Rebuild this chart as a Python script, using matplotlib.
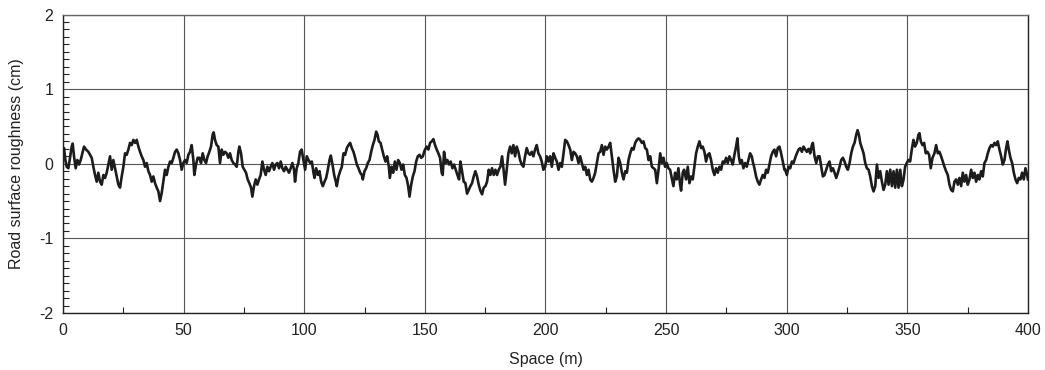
import matplotlib
matplotlib.use("Agg")
import matplotlib.pyplot as plt
from matplotlib.ticker import MultipleLocator
import numpy as np

# Road profile: distance along the road (m) and surface elevation (cm)
space_m = [
    0.00, 0.42, 0.97, 1.52, 2.21, 2.91, 3.60, 4.01, 4.56, 5.26, 5.95, 6.64, 7.33, 8.02, 8.71,
    9.54, 10.51, 11.20, 11.89, 12.58, 13.27, 13.96, 14.65, 15.34, 16.04, 16.73, 17.42, 18.11,
    18.80, 19.49, 20.18, 20.87, 21.56, 22.25, 22.95, 23.64, 24.33, 25.02, 25.71, 26.40, 27.09,
    27.78, 28.47, 29.16, 29.86, 30.55, 31.24, 31.93, 32.62, 33.31, 34.00, 34.69, 35.38, 36.07,
    36.77, 37.46, 38.15, 38.84, 39.53, 40.22, 40.91, 41.60, 42.29, 42.98, 43.68, 44.37, 45.06,
    45.75, 46.44, 47.13, 47.82, 48.51, 49.20, 49.89,
    50.57, 51.26, 51.96, 52.65, 53.34, 54.03, 54.44, 55.13, 55.82, 56.52, 57.21, 57.90, 58.59,
    59.28, 59.97, 60.66, 61.35, 62.04, 62.46, 63.01, 63.70, 64.39, 65.08, 65.78, 66.47, 67.16,
    67.85, 68.54, 69.23, 69.92, 70.61, 71.30, 72.00, 72.69, 73.10, 73.79, 74.48, 75.17, 75.86,
    76.55, 77.25, 77.94, 78.49, 79.18, 79.87, 80.56, 81.25, 81.94, 82.64, 83.33, 84.02, 84.71,
    85.40, 86.09, 86.78, 87.47, 88.16, 88.85, 89.55, 90.24, 90.93, 91.62, 92.31, 93.00, 93.69,
    94.38, 95.07, 95.76, 96.18, 96.87, 97.56, 98.25, 98.94, 99.63,
    100.37, 101.06, 101.76, 102.45, 103.14, 103.83, 104.24, 104.93, 105.62, 106.32, 107.01,
    107.70, 108.39, 109.08, 109.77, 110.46, 111.01, 111.71, 112.40, 113.09, 113.50, 114.19,
    114.88, 115.58, 116.27, 116.96, 117.65, 118.34, 119.03, 119.72, 120.41, 121.10, 121.79,
    122.49, 123.18, 123.87, 124.28, 124.97, 125.66, 126.35, 127.05, 127.74, 128.43, 129.12,
    129.81, 130.36, 130.92, 131.61, 132.30, 132.99, 133.68, 134.37, 135.06, 135.48, 136.17,
    136.86, 137.55, 138.24, 138.93, 139.62, 140.31, 141.00, 141.69, 142.39, 143.08, 143.63,
    144.32, 145.01, 145.70, 146.39, 147.08, 147.78, 148.47, 149.16, 149.71,
    150.07, 150.76, 151.46, 152.15, 152.84, 153.53, 154.22, 154.91, 155.60, 156.29, 156.98,
    157.40, 157.95, 158.64, 159.33, 160.02, 160.71, 161.41, 162.10, 162.79, 163.48, 164.17,
    164.72, 165.41, 166.10, 166.80, 167.49, 168.18, 168.87, 169.56, 170.25, 170.94, 171.63,
    172.32, 173.01, 173.71, 174.40, 175.09, 175.78, 176.47, 177.16, 177.85, 178.54, 179.23,
    179.92, 180.62, 181.31, 182.00, 182.69, 183.24, 183.93, 184.62, 185.31, 186.01, 186.70,
    187.39, 188.08, 188.77, 189.46, 190.15, 190.84, 191.53, 192.22, 192.92, 193.61, 194.30,
    194.99, 195.68, 196.37, 197.06, 197.75, 198.44, 199.13,
    199.87, 200.56, 201.26, 201.95, 202.64, 203.33, 204.02, 204.71, 205.40, 206.09, 206.78,
    207.47, 208.17, 208.86, 209.55, 210.24, 210.93, 211.62, 212.31, 213.00, 213.69, 214.38,
    215.08, 215.77, 216.46, 217.15, 217.84, 218.53, 219.22, 219.91, 220.60, 221.29, 221.99,
    222.68, 223.37, 224.06, 224.75, 225.44, 226.13, 226.82, 227.51, 228.20, 228.90, 229.59,
    230.28, 230.97, 231.66, 232.35, 233.04, 233.73, 234.42, 235.11, 235.81, 236.50, 237.19,
    237.88, 238.57, 239.26, 239.95, 240.64, 241.33, 242.02, 242.72, 243.41, 244.10, 244.79,
    245.48, 246.17, 246.86, 247.55, 248.24, 248.93,
    249.57, 250.26, 250.96, 251.65, 252.34, 253.03, 253.72, 254.41, 255.10, 255.79, 256.21,
    256.90, 257.45, 258.28, 258.97, 259.66, 260.35, 261.04, 261.73, 262.43, 263.12, 263.81,
    264.50, 265.19, 265.88, 266.57, 267.26, 267.95, 268.64, 269.34, 270.03, 270.72, 271.41,
    272.10, 272.79, 273.48, 274.17, 274.86, 275.55, 276.25, 276.94, 277.63, 278.32, 279.01,
    279.56, 280.12, 280.67, 281.36, 282.05, 282.74, 283.43, 284.12, 284.81, 285.51, 285.92,
    286.61, 287.30, 287.99, 288.68, 289.37, 290.07, 290.76, 291.45, 292.14, 292.83, 293.52,
    294.21, 294.90, 295.59, 296.28, 296.98, 297.67, 298.36, 299.05,
    299.37, 300.06, 300.76, 301.45, 302.14, 302.83, 303.52, 304.21, 304.90, 305.59, 306.28,
    306.97, 307.67, 308.36, 309.05, 309.74, 310.43, 310.84, 311.53, 312.23, 312.92, 313.61,
    314.30, 314.99, 315.68, 316.37, 317.06, 317.75, 318.44, 319.14, 319.83, 320.52, 321.21,
    321.90, 322.59, 323.28, 323.97, 324.66, 325.35, 326.05, 326.74, 327.43, 328.12, 328.81,
    329.36, 329.92, 330.47, 331.16, 331.85, 332.54, 333.23, 333.92, 334.61, 335.31, 336.00,
    336.69, 337.38, 338.07, 338.76, 339.45, 340.14, 340.83, 341.52, 342.22, 342.91, 343.60,
    344.29, 344.98, 345.67, 346.36, 347.05, 347.74, 348.43,
    349.07, 349.76, 350.46, 351.15, 351.84, 352.53, 353.22, 353.91, 354.60, 355.02, 355.57,
    356.26, 356.95, 357.64, 358.33, 359.02, 359.71, 360.41, 361.23, 361.93, 362.62, 363.31,
    364.00, 364.69, 365.38, 366.07, 366.76, 367.45, 368.14, 368.84, 369.53, 370.22, 370.91,
    371.60, 372.29, 372.98, 373.67, 374.36, 375.05, 375.75, 376.44, 377.13, 377.82, 378.51,
    379.20, 379.89, 380.58, 381.27, 381.96, 382.66, 383.35, 384.04, 384.73, 385.42, 386.11,
    386.80, 387.49, 388.18, 388.87, 389.57, 390.26, 390.95, 391.50, 392.05, 392.74, 393.44,
    394.13, 394.82, 395.51, 396.20, 396.89, 397.58, 398.27, 398.96, 399.65, 400.00,
]

roughness_cm = [
    0.16, 0.21, 0.05, -0.04, -0.06, 0.08, 0.23, 0.27, 0.10, -0.06, 0.05, -0.01, 0.05, 0.14, 0.23,
    0.19, 0.16, 0.12, 0.08, -0.04, -0.15, -0.24, -0.12, -0.24, -0.28, -0.15, -0.19, -0.12,
    -0.01, 0.10, -0.08, 0.05, -0.06, -0.17, -0.28, -0.32, -0.17, -0.04, 0.14, 0.12, 0.19,
    0.28, 0.25, 0.32, 0.28, 0.32, 0.23, 0.16, 0.10, 0.05, -0.04, 0.01, -0.10, -0.15,
    -0.24, -0.17, -0.26, -0.32, -0.37, -0.50, -0.39, -0.24, -0.08, -0.15, -0.04, 0.03, 0.01,
    0.08, 0.16, 0.19, 0.14, 0.05, -0.08, 0.01,
    0.05, 0.01, 0.12, 0.16, 0.25, 0.05, -0.15, -0.01, 0.08, 0.08, 0.01, 0.14, 0.05,
    0.01, 0.10, 0.16, 0.23, 0.39, 0.42, 0.32, 0.25, 0.23, 0.01, 0.19, 0.12, 0.16,
    0.14, 0.08, 0.14, 0.05, 0.01, -0.01, -0.04, 0.16, 0.23, 0.14, -0.04, -0.08, -0.12,
    -0.21, -0.26, -0.32, -0.44, -0.30, -0.21, -0.28, -0.21, -0.15, 0.03, -0.08, -0.15, -0.04,
    -0.10, -0.04, 0.01, -0.08, -0.01, 0.01, -0.06, 0.03, -0.06, -0.10, -0.04, -0.08, -0.12,
    -0.06, 0.01, -0.08, -0.24, -0.06, 0.01, 0.16, 0.19, 0.05,
    -0.08, 0.10, 0.05, 0.01, 0.03, -0.12, -0.19, -0.06, -0.15, -0.10, -0.24,
    -0.30, -0.24, -0.19, -0.08, 0.05, 0.11, -0.01, -0.15, -0.24, -0.30, -0.17,
    -0.10, -0.04, 0.14, 0.12, 0.21, 0.25, 0.28, 0.21, 0.16, 0.08, -0.01,
    -0.06, -0.12, -0.15, -0.21, -0.10, -0.06, 0.01, 0.05, 0.16, 0.25, 0.32,
    0.43, 0.39, 0.30, 0.28, 0.19, 0.10, 0.03, 0.10, -0.04, -0.19, -0.04,
    -0.12, 0.03, -0.08, 0.05, 0.01, -0.08, -0.01, -0.15, -0.19, -0.30, -0.44,
    -0.28, -0.17, -0.10, 0.03, 0.10, 0.12, 0.08, 0.10, 0.16,
    0.19, 0.23, 0.19, 0.28, 0.30, 0.33, 0.25, 0.19, 0.14, 0.08, -0.12,
    -0.15, 0.16, 0.01, 0.05, -0.01, 0.03, -0.06, -0.01, -0.08, -0.15, -0.21,
    0.03, -0.10, -0.24, -0.26, -0.40, -0.35, -0.30, -0.26, -0.17, -0.10, -0.17,
    -0.28, -0.36, -0.41, -0.32, -0.30, -0.24, -0.08, -0.15, -0.06, -0.15, -0.08,
    -0.15, -0.08, -0.04, 0.10, -0.10, -0.28, -0.08, 0.14, 0.23, 0.14, 0.25,
    0.10, 0.23, 0.16, 0.05, -0.01, -0.04, 0.10, 0.21, 0.14, 0.12, 0.16,
    0.10, 0.19, 0.25, 0.14, 0.10, 0.03, -0.08,
    -0.04, 0.10, 0.03, 0.10, -0.04, 0.14, 0.08, 0.03, -0.08, 0.01, -0.04,
    0.14, 0.32, 0.30, 0.25, 0.19, 0.05, 0.16, 0.14, 0.10, 0.01, 0.10,
    0.01, -0.08, -0.04, -0.15, -0.08, -0.21, -0.24, -0.19, -0.12, 0.01, 0.14,
    0.16, 0.25, 0.12, 0.23, 0.19, 0.23, 0.28, 0.10, -0.08, -0.24, -0.17,
    0.08, 0.01, -0.12, -0.21, -0.10, -0.12, 0.05, 0.14, 0.21, 0.19, 0.28,
    0.32, 0.34, 0.32, 0.28, 0.30, 0.21, 0.19, 0.05, 0.10, -0.04, -0.06,
    -0.08, -0.26, -0.08, 0.14, 0.01, 0.08,
    -0.04, 0.01, -0.06, -0.08, -0.19, -0.30, -0.12, -0.21, -0.06, -0.28, -0.36,
    -0.12, -0.08, -0.21, -0.04, -0.26, -0.17, -0.21, -0.04, 0.14, 0.23, 0.30,
    0.21, 0.23, 0.16, 0.03, 0.12, 0.14, 0.05, -0.08, -0.15, -0.06, -0.12,
    -0.04, -0.08, 0.03, 0.01, 0.08, 0.01, 0.10, 0.05, -0.01, 0.12, 0.23,
    0.34, 0.10, 0.01, 0.05, -0.06, 0.01, -0.04, 0.05, 0.14, 0.10, 0.03,
    -0.06, -0.17, -0.24, -0.28, -0.21, -0.15, -0.19, -0.08, -0.12, -0.01, 0.10,
    0.16, 0.19, 0.10, 0.21, 0.23, 0.14, 0.03, -0.08,
    -0.08, -0.15, -0.04, -0.06, 0.03, 0.01, 0.08, 0.14, 0.19, 0.21, 0.16,
    0.23, 0.19, 0.16, 0.20, 0.14, 0.25, 0.28, 0.10, 0.01, 0.10, 0.10,
    -0.04, -0.17, -0.15, -0.08, -0.01, 0.03, -0.10, -0.06, -0.12, -0.19, -0.12,
    -0.04, 0.05, 0.08, 0.03, -0.04, -0.08, 0.01, 0.14, 0.23, 0.28, 0.39,
    0.45, 0.39, 0.28, 0.21, 0.14, 0.01, -0.06, -0.08, -0.17, -0.30, -0.37,
    -0.30, -0.01, -0.19, -0.10, -0.24, -0.35, -0.28, -0.10, -0.28, -0.08, -0.30,
    -0.10, -0.32, -0.08, -0.32, -0.08, -0.30, -0.21,
    -0.04, 0.01, 0.05, 0.03, 0.19, 0.32, 0.23, 0.28, 0.39, 0.41, 0.30,
    0.25, 0.28, 0.14, 0.16, 0.12, -0.06, 0.08, 0.14, 0.25, 0.14, 0.16,
    0.10, 0.03, -0.04, -0.10, -0.15, -0.28, -0.35, -0.37, -0.24, -0.21, -0.28,
    -0.19, -0.30, -0.12, -0.24, -0.15, -0.28, -0.21, -0.08, -0.19, -0.12, -0.24,
    -0.15, -0.21, -0.10, -0.17, 0.01, 0.05, 0.14, 0.21, 0.25, 0.23, 0.28,
    0.25, 0.30, 0.19, 0.10, -0.01, 0.05, 0.21, 0.30, 0.19, 0.08, 0.01,
    -0.12, -0.21, -0.26, -0.19, -0.21, -0.12, -0.21, -0.06, -0.15, -0.21,
]

x_ticks = [0, 50, 100, 150, 200, 250, 300, 350, 400]
y_ticks = [-2, -1, 0, 1, 2]

plt.rcParams["font.family"] = ["Liberation Sans", "DejaVu Sans"]

fig = plt.figure(figsize=(10.45, 3.70), dpi=100)
ax = fig.add_axes([0.0603, 0.154, 0.9234, 0.8068])

ax.plot(space_m, roughness_cm, color="#1c1c1c", linewidth=1.9, zorder=3)

ax.set_xlim(0, 400)
ax.set_ylim(-2, 2)
ax.set_xticks(x_ticks)
ax.set_yticks(y_ticks)
ax.set_xticklabels([str(v) for v in x_ticks])
ax.set_yticklabels([str(v) for v in y_ticks])
ax.xaxis.set_minor_locator(MultipleLocator(25))
ax.yaxis.set_minor_locator(MultipleLocator(0.1))

ax.grid(True, which="major", color="#555555", linewidth=0.8)
ax.tick_params(which="both", direction="in", top=False, right=False,
               labelsize=11.5, colors="#222222", pad=7)
ax.tick_params(which="major", length=0)
ax.tick_params(which="minor", length=4, width=0.8)

for side in ("left", "bottom", "right"):
    ax.spines[side].set_color("#222222")
    ax.spines[side].set_linewidth(1.0)
ax.spines["top"].set_color("#666666")
ax.spines["top"].set_linewidth(1.0)

ax.set_xlabel("Space (m)", fontsize=11.5, color="#222222", labelpad=10)
ax.set_ylabel("Road surface roughness (cm)", fontsize=11.5, color="#222222", labelpad=11)

fig.savefig("out.png", dpi=100, facecolor="white")
